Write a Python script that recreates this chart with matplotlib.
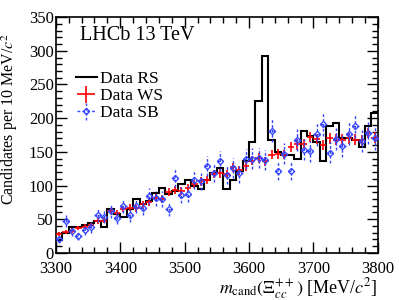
import numpy as np
import matplotlib
matplotlib.use("Agg")
import matplotlib.pyplot as plt
from matplotlib.ticker import MultipleLocator

plt.rcParams["font.family"] = ["Liberation Serif", "DejaVu Serif"]
plt.rcParams["mathtext.fontset"] = "stix"

# 10 MeV bins from 3300 to 3800
bin_edges = np.arange(3300, 3801, 10)
bin_centres = bin_edges[:-1] + 5

data_rs = [19, 29, 39, 39, 42, 45, 48, 38, 65, 58,
           53, 65, 80, 73, 77, 89, 97, 88, 92, 102,
           108, 100, 95, 108, 119, 126, 95, 108, 121, 136,
           164, 225, 293, 167, 150, 145, 145, 140, 181, 174,
           164, 137, 188, 193, 170, 170, 167, 157, 188, 207]

data_ws = [28, 31, 33, 37, 39, 41, 47, 48, 62, 59,
           65, 67, 66, 72, 75, 82, 80, 90, 93, 92,
           97, 102, 106, 108, 117, 118, 117, 127, 123, 129,
           137, 141, 136, 146, 147, 146, 157, 161, 162, 172,
           169, 160, 170, 168, 168, 170, 168, 167, 178, 171]

data_sb = [20, 47, 32, 25, 34, 38, 56, 53, 62, 52,
           70, 56, 70, 67, 84, 81, 80, 65, 111, 86,
           88, 108, 106, 129, 119, 136, 116, 126, 118, 139,
           140, 141, 138, 181, 122, 147, 122, 168, 153, 151,
           176, 191, 149, 169, 159, 177, 188, 166, 178, 170]

# scaled Poisson uncertainties
ws_err = 0.6 * np.sqrt(data_ws)
sb_err = 1.27 * np.sqrt(data_sb)

fig = plt.figure(figsize=(3.99, 3.0), dpi=100)
ax = fig.add_axes([0.140, 0.157, 0.807, 0.786])

ax.stairs(data_rs, bin_edges, color="black", lw=1.5, baseline=None, label="Data RS")

ax.errorbar(bin_centres, data_ws, xerr=5, yerr=ws_err, fmt="none",
            ecolor="red", elinewidth=1.2, label="Data WS", zorder=3)

sb = ax.errorbar(bin_centres, data_sb, xerr=5, yerr=sb_err, fmt="D",
                 color="#3344ff", mfc="none", mec="#3344ff", ms=3.2, mew=0.9,
                 elinewidth=1.0, label="Data SB", zorder=4)
for col in sb[2]:
    col.set_linestyle((0, (2, 1.5)))

ax.set_xlim(3300, 3800)
ax.set_ylim(0, 350)
ax.xaxis.set_major_locator(MultipleLocator(100))
ax.xaxis.set_minor_locator(MultipleLocator(20))
ax.yaxis.set_major_locator(MultipleLocator(50))
ax.yaxis.set_minor_locator(MultipleLocator(10))
ax.tick_params(which="both", direction="in", top=True, right=True, labelsize=12, width=1)
ax.tick_params(which="major", length=8)
ax.tick_params(which="minor", length=4)
ax.tick_params(axis="x", pad=6)
ax.tick_params(axis="y", pad=1.5)
for s in ax.spines.values():
    s.set_linewidth(1.2)

ax.set_ylabel(r"Candidates per 10 MeV/$c^2$", fontsize=11.5)
ax.yaxis.set_label_coords(-0.11, 0.57)
ax.set_xlabel(r"$m_{\rm cand}(\mathit{\Xi}_{cc}^{++})$ [MeV/$c^2$]", fontsize=13, labelpad=0)
ax.xaxis.set_label_coords(1.0, -0.1)
ax.xaxis.label.set_horizontalalignment("right")

ax.text(0.075, 0.92, "LHCb 13 TeV", transform=ax.transAxes, fontsize=14.5, va="center")

ax.legend(loc="upper left", bbox_to_anchor=(0.04, 0.80), frameon=False, fontsize=12.5,
          handlelength=1.2, handletextpad=0.2, labelspacing=0.05, borderaxespad=0)

fig.savefig("out.png", dpi=100)
plt.close(fig)
